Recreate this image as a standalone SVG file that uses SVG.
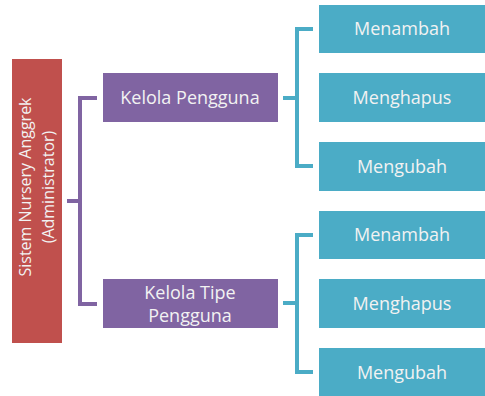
<svg xmlns="http://www.w3.org/2000/svg" width="485" height="396" viewBox="0 0 485 396">
<style>
.t{font-family:"Open Sans","Noto Sans",sans-serif;font-size:18px;fill:#F2F2F2;text-anchor:middle}
.v{font-size:16px}
.pl{fill:none;stroke:#8064A2;stroke-width:4}
.tl{fill:none;stroke:#4BACC6;stroke-width:4}
.p{fill:#8064A2}
.c{fill:#4BACC6}
</style>
<rect width="485" height="396" fill="#fff"/>
<g id="connectors">
<path class="pl" d="M67 201H80M97 98H80V304H97"/>
<path class="tl" d="M283 98H297M313 29H297V166H313"/>
<path class="tl" d="M283 303H297M313 235H297V372H313"/>
</g>
<g id="root">
<rect x="12" y="59" width="50" height="284" fill="#C0504D"/>
<g transform="translate(37,187) rotate(-90)">
<text class="t v" x="0" y="-6">Sistem Nursery Anggrek</text>
<text class="t v" x="0" y="17">(Administrator)</text>
</g>
</g>
<g id="kelola-pengguna">
<rect class="p" x="103" y="73" width="175" height="49"/>
<text class="t" x="190" y="104">Kelola Pengguna</text>
</g>
<g id="kelola-tipe">
<rect class="p" x="103" y="279" width="175" height="49"/>
<text class="t" x="190" y="299">Kelola Tipe</text>
<text class="t" x="190" y="322">Pengguna</text>
</g>
<g id="a1"><rect class="c" x="319" y="5" width="166" height="48"/><text class="t" x="402" y="35">Menambah</text></g>
<g id="a2"><rect class="c" x="319" y="73" width="166" height="49"/><text class="t" x="402" y="104">Menghapus</text></g>
<g id="a3"><rect class="c" x="319" y="142" width="166" height="49"/><text class="t" x="402" y="173">Mengubah</text></g>
<g id="b1"><rect class="c" x="319" y="211" width="166" height="48"/><text class="t" x="402" y="241">Menambah</text></g>
<g id="b2"><rect class="c" x="319" y="279" width="166" height="49"/><text class="t" x="402" y="310">Menghapus</text></g>
<g id="b3"><rect class="c" x="319" y="348" width="166" height="48"/><text class="t" x="402" y="379">Mengubah</text></g>
</svg>
